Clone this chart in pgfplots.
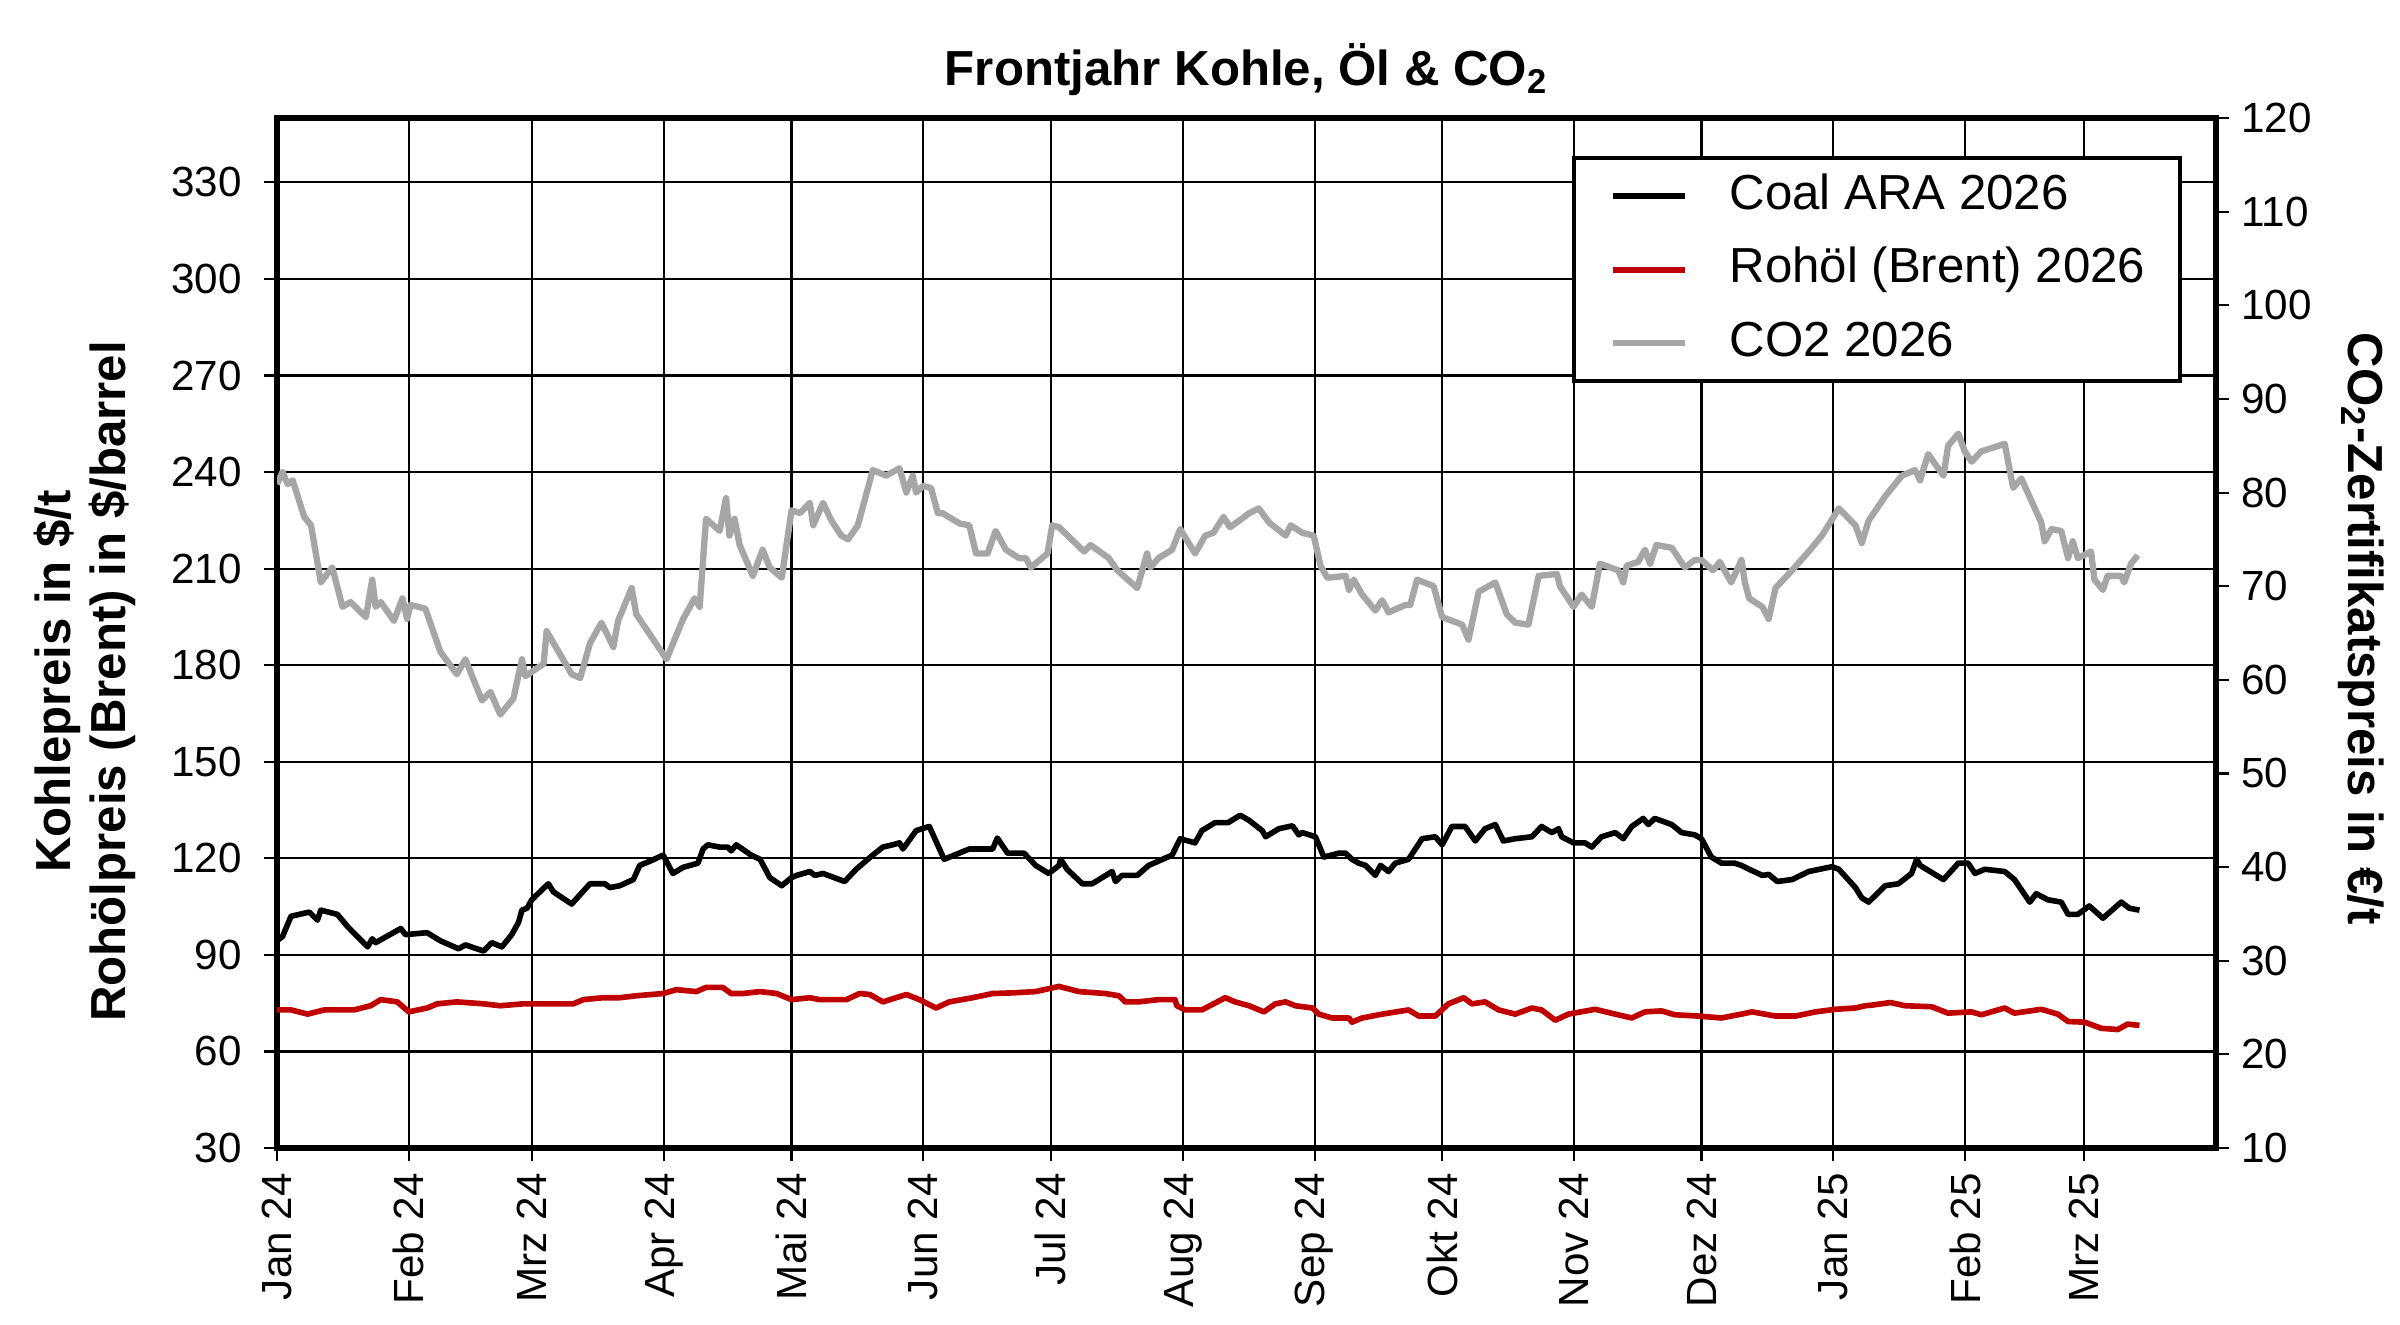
\documentclass[border=0pt]{standalone}
\usepackage{fontspec}
\setmainfont{Liberation Sans}
\usepackage{pgfplots}
\pgfplotsset{compat=1.18}
\usepackage{pgfplotstable}
\definecolor{oilred}{HTML}{C00000}
\definecolor{co2gray}{HTML}{A6A6A6}

\pgfplotstableread{
day val
0 94.4
1.3 95.7
3.3 102.0
7.6 103.3
9.5 100.8
10.3 103.9
14.2 102.6
16.6 98.8
21.3 92.5
22.4 95.0
23.2 93.8
29.1 98.2
30.2 96.3
35.3 96.9
38.4 94.4
42.7 91.9
44.3 93.1
48.6 91.2
50.5 93.8
52.9 92.5
55.2 96.3
56.8 100.1
57.6 103.9
58.8 104.5
59.9 107.1
63.8 112.1
65.0 109.6
69.3 105.8
73.6 112.1
77.1 112.1
78.3 110.9
80.6 111.5
83.8 113.4
85.3 117.8
87.7 119.1
90.8 121.0
93.1 115.3
95.5 117.2
99.0 118.5
100.2 122.9
101.3 124.2
104.1 123.5
106.0 123.5
106.8 122.3
108.0 124.2
111.5 121.0
113.6 119.7
115.9 114.0
118.7 111.5
121 114.0
122.2 114.7
125.3 115.9
126.5 114.7
128.4 115.3
133.5 112.8
136.2 116.6
140.1 121.0
142.5 123.5
144.8 124.2
146.4 124.8
147.2 122.9
150.3 128.6
153.4 129.9
156.9 119.7
162.8 122.9
168.3 122.9
169.4 126.3
171.8 121.6
175.7 121.6
178.4 117.8
181.5 115.3
183.9 117.8
184.3 119.7
185.8 116.6
189.4 112.1
191.7 112.1
196.4 115.9
197.2 112.8
198.7 114.7
202.3 114.7
205 117.8
210.5 121.0
212.4 126.1
215.9 124.8
217.5 128.6
220.6 131.1
223.7 131.1
226.5 133.4
228.6 131.8
231.7 128.6
232.5 126.7
235.6 129.2
238.8 130.1
240.3 127.3
241.1 128.0
244.2 126.7
246.2 120.4
249.7 121.6
251.3 121.6
252.8 119.7
254.4 118.5
256 117.8
258.3 114.7
259.5 117.8
261.4 115.9
263 118.5
266.1 119.7
269.3 126.1
272.4 126.7
274 124.2
276.3 129.9
279.4 129.9
281.8 125.4
284.1 129.2
286.5 130.5
288.4 125.4
291.2 126.1
295.1 126.7
297.4 129.9
299.8 128.0
301.4 129.2
302.1 126.7
304.9 124.8
307.6 124.8
309.2 123.5
311.5 126.7
314.7 128.0
316.6 126.1
318.6 129.9
321.3 132.4
322.5 130.5
324 132.4
328 130.5
330.3 128.0
333.4 127.3
335 126.1
337.3 120.4
339.7 118.5
342.8 118.5
344.4 117.8
346.2 116.6
349.3 114.7
350.8 115.0
352.8 112.8
356.3 113.4
360.2 115.9
365.7 117.4
367.3 116.6
371.2 110.9
372.7 107.7
374.3 106.4
378.2 111.5
381.3 112.1
384.4 115.3
385.6 119.7
386.4 117.8
391.9 113.4
395.4 118.5
397.7 118.5
399.3 115.3
401.6 116.6
406.3 115.9
408.6 113.4
412.2 106.4
413.7 109.0
416.5 107.1
419.6 106.4
421.2 102.6
423.5 102.6
426.2 105.2
429.4 101.4
433.7 106.4
435.6 104.5
438 103.9
}\coal

\pgfplotstableread{
day val
0 72.9
3.3 72.9
7.2 71.6
11.1 72.9
15 72.9
18.1 72.9
22 74.2
24.4 76.1
28.3 75.4
31 72.3
35.3 73.5
37.7 74.8
42.3 75.4
48.6 74.8
52.5 74.2
57.9 74.8
63.4 74.8
69.7 74.8
72 76.1
76.7 76.7
80.6 76.7
84.5 77.3
90.8 78.0
93.9 79.2
98.6 78.6
100.9 79.9
104.8 79.9
106.8 78.0
109.5 78.0
113.6 78.6
117.5 78.0
121 76.1
125.3 76.7
127.6 76.1
133.9 76.1
137 78.0
139.4 77.7
142.5 75.4
148 77.7
151.1 76.1
155 73.5
158.1 75.4
163.6 76.7
168.3 78.0
173 78.2
178.4 78.6
183.9 80.2
188.6 78.6
194.8 78.0
198 77.3
199.5 75.4
202.6 75.4
207.3 76.1
211.2 76.1
211.6 74.2
213.6 72.9
217.5 72.9
223 76.7
225.3 75.4
228.6 74.2
232.1 72.3
234.8 74.8
237.2 75.4
239.5 74.2
243.5 73.5
245 71.6
248.1 70.4
252.1 70.4
252.8 69.1
255.2 70.4
259.9 71.6
266.1 72.9
268.5 71.0
272.4 71.0
275.5 74.8
279.1 76.7
281 74.8
284.1 75.4
287.3 72.9
291.2 71.6
295.1 73.5
297.4 72.9
300.6 69.7
303.7 71.6
310 73.1
314.7 71.6
318.6 70.4
321.7 72.3
325.6 72.6
328.7 71.4
334.2 71.0
339.7 70.4
344.4 71.6
346.9 72.3
352.4 71.0
357.1 71.0
361.8 72.3
366.5 73.1
371.2 73.5
373.5 74.2
375.1 74.4
379.4 75.2
382.9 74.2
389.1 73.9
393 71.9
398.5 72.3
400.8 71.4
406.3 73.5
408.6 71.9
414.9 73.1
418.8 71.6
421.2 69.3
425.1 69.1
429 67.2
432.9 66.8
435.2 68.5
438 68.1
}\oil

\pgfplotstableread{
day val
0 80.9
1.3 82.2
2.5 80.9
3.7 81.3
6.4 77.4
8.0 76.5
10.3 70.4
13.0 72.0
15.4 67.8
17.3 68.3
20.9 66.7
22.4 70.7
23.2 67.8
24.4 68.3
27.5 66.3
29.5 68.7
30.6 66.5
31.4 68.0
34.9 67.6
38.4 63.0
42.3 60.6
44.3 62.2
48.2 57.8
50.2 58.7
52.5 56.3
55.6 58.0
57.6 62.2
58.4 60.4
62.7 61.7
63.4 65.2
69.3 60.6
71.3 60.2
73.6 63.9
76.3 66.1
79.1 63.5
80.2 66.3
83.4 69.8
84.5 67.0
91.6 62.2
95.5 66.5
98.2 68.7
99.4 67.8
100.9 77.2
104.1 75.9
105.6 79.4
106.4 75.4
107.6 77.2
108.8 74.4
111.9 71.1
114.2 73.9
115.9 72.0
118.7 70.9
121 78.1
123 77.8
125.3 78.9
126.1 76.5
128.4 78.9
130.4 77.0
132.7 75.4
134.3 75.0
136.6 76.5
140.1 82.4
143.3 81.8
146.4 82.6
148 80.0
149.5 81.8
150.3 80.0
151.9 80.7
153.8 80.5
155.4 77.8
156.5 77.8
160.5 76.7
162.8 76.5
164.4 73.5
167.1 73.5
169 75.9
171.4 73.9
174.5 73.0
176.1 73.0
177.3 72.0
181.2 73.5
182.3 76.5
183.9 76.3
189.8 73.7
191.3 74.4
195.6 73.0
197.6 71.7
202.3 69.8
204.6 73.5
205.4 72.0
207.3 73.0
210.5 73.9
212.4 76.1
215.9 73.5
218.3 75.4
220.2 75.7
222.6 77.4
224.1 76.3
226.9 77.2
228.6 77.8
230.9 78.3
233.3 76.8
237.2 75.4
238.4 76.5
241.1 75.7
243.8 75.4
245.4 72.2
247.0 70.9
251.3 71.1
252.1 69.6
253.2 70.7
255.2 69.1
258.3 67.4
259.9 68.5
261.4 67.2
265.4 68.0
266.5 68.0
268.1 70.7
272 70.0
274 66.7
278.7 65.9
280.2 64.3
282.6 69.4
286.5 70.4
289.2 67.0
291.2 66.1
294.3 65.9
296.7 71.1
301 71.3
301.7 70.0
304.9 67.8
306.8 69.1
309.2 67.8
311.1 72.4
315.4 71.7
316.6 70.4
317.4 72.2
320.1 72.6
321.7 73.9
322.9 72.4
324.4 74.4
328 74.1
331.1 72.0
333.4 72.8
335 72.8
337.7 71.7
339.3 72.6
342 70.4
344.4 72.8
345.2 70.4
346.2 68.7
349.3 67.8
350.8 66.5
352.4 69.8
356.3 71.7
360.2 73.7
363.3 75.4
367.3 78.3
371.2 76.5
372.7 74.6
374.3 77.0
378.2 79.6
382.1 81.8
385.2 82.4
386.4 81.3
388.3 84.1
391.9 81.8
393 85.0
395.4 86.3
396.9 84.4
398.5 83.3
400.8 84.4
406.3 85.2
408.3 80.5
410.2 81.5
412.6 79.1
414.9 76.8
415.7 74.8
417.3 76.1
419.6 75.9
421.2 73.0
422.3 74.8
423.5 73.0
426.6 73.7
427.4 70.7
429.4 69.6
430.5 71.1
433.7 71.1
434.4 70.4
436 72.4
437.6 73.3
}\cotwo

\begin{document}
\begin{tikzpicture}
\useasboundingbox (-2.77cm,-1.76cm) rectangle (21.23cm,11.48cm);
\begin{axis}[
  at={(0,0)}, anchor=south west,
  width=19.39cm, height=10.30cm, scale only axis,
  xmin=0, xmax=456, ymin=30, ymax=350,
  xtick={0,31,60,91,121,152,182,213,244,274,305,335,366,397,425},
  xticklabels={Jan 24,Feb 24,Mrz 24,Apr 24,Mai 24,Jun 24,Jul 24,Aug 24,Sep 24,Okt 24,Nov 24,Dez 24,Jan 25,Feb 25,Mrz 25},
  ytick={30,60,...,330},
  grid=major, grid style={black, line width=0.6pt},
  axis line style={line width=1.9pt},
  tick align=outside, xtick pos=left, ytick pos=left,
  major tick length=0.13cm, tick style={black, line width=0.6pt},
  ticklabel style={font=\fontsize{12}{14}\selectfont},
  /pgf/number format/assume math mode=true,
  xticklabel style={rotate=90, anchor=east},
  yticklabel style={xshift=-0.1cm},
  title={Frontjahr Kohle, Öl \& CO\textsubscript{2}},
  title style={at={(axis description cs:0.5,1)}, anchor=base, yshift=0.11cm, font=\bfseries\fontsize{14}{16}\selectfont},
  ylabel={Kohlepreis in \$/t\\Rohölpreis (Brent) in \$/barrel},
  ylabel style={at={(axis description cs:-0.099,0.453)}, anchor=center, align=center, font=\bfseries\fontsize{14}{15.5}\selectfont},
  legend cell align=left,
  legend image code/.code={\draw[#1] (0cm,0cm) -- (0.72cm,0cm); \path[draw=none, fill=none] (0cm,0cm) -- (1.17cm,0cm);},
  legend style={at={(0.668,0.963)}, anchor=north west, draw=black, line width=1.2pt, fill=white,
    font=\fontsize{14}{16}\selectfont, inner xsep=0.35cm, inner ysep=0.15cm, row sep=0.275cm,
    nodes={inner sep=0pt, text height=0.36cm, text depth=0.1cm}},
]
\addplot[black, line width=1.6pt, line join=round] table[x=day, y=val] {\coal};
\addlegendentry{Coal ARA 2026}
\addplot[oilred, line width=1.6pt, line join=round] table[x=day, y=val] {\oil};
\addlegendentry{Rohöl (Brent) 2026}
\addlegendimage{co2gray, line width=1.8pt}
\addlegendentry{CO2 2026}
\end{axis}
\begin{axis}[
  at={(0,0)}, anchor=south west,
  width=19.39cm, height=10.30cm, scale only axis,
  xmin=0, xmax=456, ymin=10, ymax=120,
  axis x line=none, axis y line*=right,
  axis line style={line width=1.9pt, -},
  ytick={10,20,...,120},
  tick align=outside,
  major tick length=0.13cm, tick style={black, line width=0.6pt},
  ticklabel style={font=\fontsize{12}{14}\selectfont},
  /pgf/number format/assume math mode=true,
  ylabel={CO\textsubscript{2}-Zertifikatspreis in €/t},
  ylabel style={at={(axis description cs:1.075,0.504)}, anchor=center, rotate=180, font=\bfseries\fontsize{14}{16}\selectfont},
]
\addplot[co2gray, line width=1.8pt, line join=round] table[x=day, y=val] {\cotwo};
\end{axis}
\end{tikzpicture}
\end{document}
